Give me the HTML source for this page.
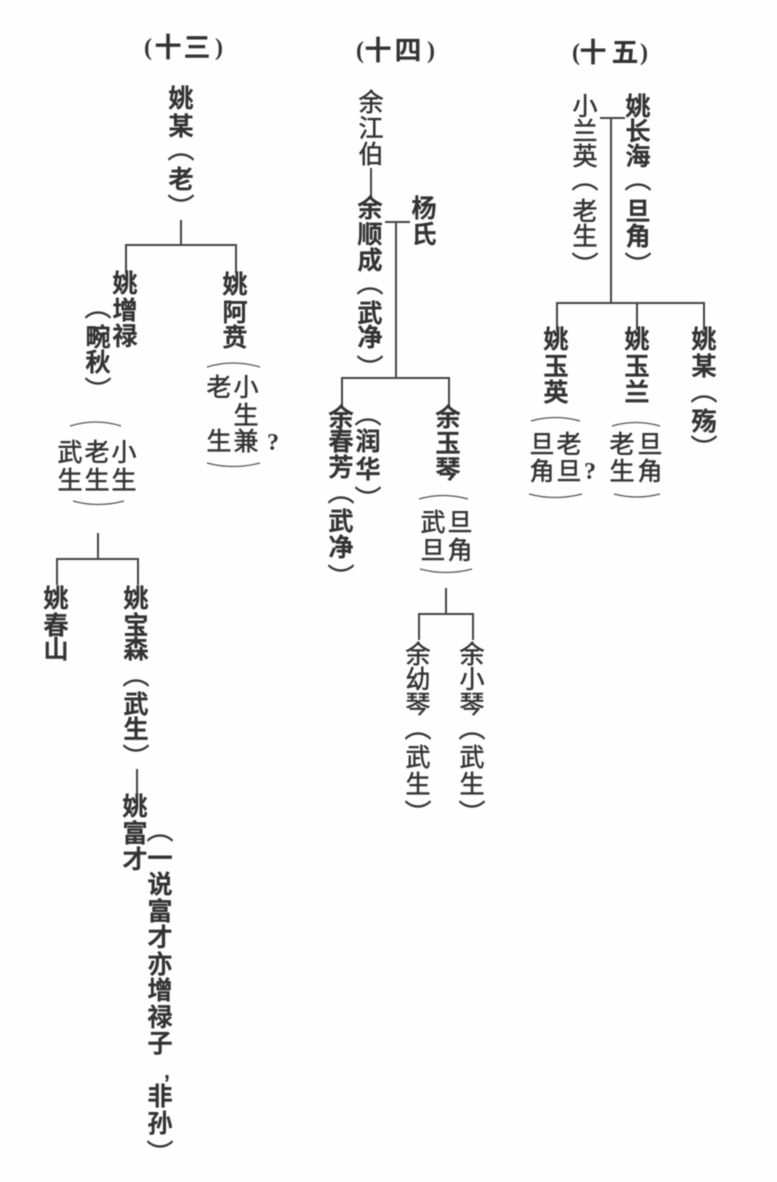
<!DOCTYPE html>
<html lang="zh">
<head>
<meta charset="utf-8">
<title>谱系图</title>
<style>
html,body{margin:0;padding:0;background:#fefefe;}
svg{display:block;filter:blur(0.5px);}
text{font-family:"Liberation Sans","Noto Sans CJK SC",sans-serif;font-size:25px;fill:#333;text-anchor:middle;dominant-baseline:central;font-weight:400;stroke:#333;stroke-width:.5px;}
text.b{font-weight:500;stroke-width:.7px;}
text.t{font-weight:700;font-size:27px;stroke:none;}
text.tp{font-family:"Liberation Serif",serif;font-weight:700;font-size:24px;stroke:none;}
text.q{font-family:"Liberation Serif",serif;font-size:24px;font-weight:700;stroke:none;}
text.p{font-family:"Noto Sans CJK SC",sans-serif;font-size:27px;font-weight:400;stroke:#444;stroke-width:.4px;writing-mode:vertical-rl;}
.l{stroke:#444;stroke-width:2;fill:none;}
.a{stroke:#555;stroke-width:1.2;fill:none;}
</style>
</head>
<body>
<svg xmlns="http://www.w3.org/2000/svg" width="777" height="1182" viewBox="0 0 777 1182">
<!-- titles -->
<text class="tp" x="148" y="48">(</text><text class="t" x="168 197" y="48 48">十三</text><text class="tp" x="219" y="48">)</text>
<text class="tp" x="360" y="51">(</text><text class="t" x="378 408" y="51 51">十四</text><text class="tp" x="431" y="51">)</text>
<text class="tp" x="576" y="53">(</text><text class="t" x="593 625" y="53 53">十五</text><text class="tp" x="644" y="53">)</text>

<!-- 13 -->
<text class="b" x="181 181 181" y="99 127 180">姚某老</text>
<text class="p" x="181" y="148">（</text>
<text class="p" x="181" y="207">）</text>
<path class="l" d="M181 220V245M126 273V245H236V273"/>
<text class="b" x="125 125 125" y="284 311 337">姚增禄</text>
<text class="b" x="98 98" y="338 363">畹秋</text>
<text class="p" x="98" y="306">（</text>
<text class="p" x="98" y="390">）</text>
<text class="b" x="235 235 235" y="285 313 338">姚阿贲</text>
<path class="a" d="M207 367Q233 359 260 367M207 463Q233 470 260 463"/>
<text x="219 246 246 219 246" y="388 388 416 442 442">老小生生兼</text>
<text class="q" x="273" y="443">?</text>
<path class="a" d="M70 426Q96 418 121 426M73 501Q98 508 124 501"/>
<text x="70 97 124 70 97 124" y="453 453 453 481 481 481">武老小生生生</text>
<path class="l" d="M98 533V559M57 585V559H138V585"/>
<text class="b" x="56 56 56" y="599 626 650">姚春山</text>
<text class="b" x="136 136 136 136 136" y="599 626 650 705 730">姚宝森武生</text>
<text class="p" x="136" y="674">（</text>
<text class="p" x="136" y="757">）</text>
<path class="l" d="M137 769V795"/>
<text class="b" x="135 135 135" y="807 834 860">姚富才</text>
<text class="p" x="160" y="829">（</text>
<text class="b" x="160 160 160 160 160 160 160 160" y="859 885 912 938 965 991 1018 1044">一说富才亦增禄子</text>
<text class="b" x="167" y="1070">,</text>
<text class="b" x="160 160" y="1097 1124">非孙</text>
<text class="p" x="160" y="1153">）</text>

<!-- 14 -->
<text x="371 371 371" y="103 129 155">余江伯</text>
<path class="l" d="M371 168V198"/>
<text class="b" x="370 370 370 370 370" y="209 235 261 314 338">余顺成武净</text>
<text class="p" x="370" y="282">（</text>
<text class="p" x="370" y="368">）</text>
<text class="b" x="424 424" y="209 235">杨氏</text>
<path class="l" d="M385 222H410M396 222V378M342 405V378H449V407"/>
<text class="b" x="341 341 341 341 341" y="418 442 468 522 548">余春芳武净</text>
<text class="p" x="341" y="491">（</text>
<text class="p" x="341" y="577">）</text>
<text class="b" x="368 368" y="442 470">润华</text>
<text class="p" x="368" y="413">（</text>
<text class="p" x="368" y="499">）</text>
<text class="b" x="448 448 448" y="418 444 470">余玉琴</text>
<path class="a" d="M419 499Q443 492 468 499M420 569Q446 576 472 569"/>
<text x="460 433 433 460" y="523 523 551 551">旦武旦角</text>
<path class="l" d="M446 588V614M419 640V614H473V640"/>
<text x="418 418 418 418 418" y="655 680 705 758 785">余幼琴武生</text>
<text class="p" x="418" y="727">（</text>
<text class="p" x="418" y="813">）</text>
<text x="472 472 472 472 472" y="655 680 705 758 785">余小琴武生</text>
<text class="p" x="472" y="727">（</text>
<text class="p" x="472" y="813">）</text>

<!-- 15 -->
<text x="585 585 585 585 585" y="107 132 157 212 237">小兰英老生</text>
<text class="p" x="585" y="178">（</text>
<text class="p" x="585" y="265">）</text>
<text class="b" x="638 638 638 638 638" y="107 132 157 212 237">姚长海旦角</text>
<text class="p" x="638" y="178">（</text>
<text class="p" x="638" y="265">）</text>
<path class="l" d="M600 118H625M611 118V303M557 330V303H704V330M637 303V330"/>
<text class="b" x="556 556 556" y="340 367 393">姚玉英</text>
<text class="b" x="637 637 637" y="340 367 393">姚玉兰</text>
<text class="b" x="704 704 704" y="340 367 422">姚某殇</text>
<text class="p" x="704" y="390">（</text>
<text class="p" x="704" y="448">）</text>
<path class="a" d="M531 421Q555 414 580 421M529 494Q555 501 582 494"/>
<text x="542 569 542 569" y="445 445 472 472">旦老角旦</text>
<text class="q" x="590" y="472">?</text>
<path class="a" d="M612 426Q636 419 660 426M614 494Q637 500 660 494"/>
<text x="622 650 622 650" y="445 445 472 472">老旦生角</text>
</svg>
</body>
</html>
